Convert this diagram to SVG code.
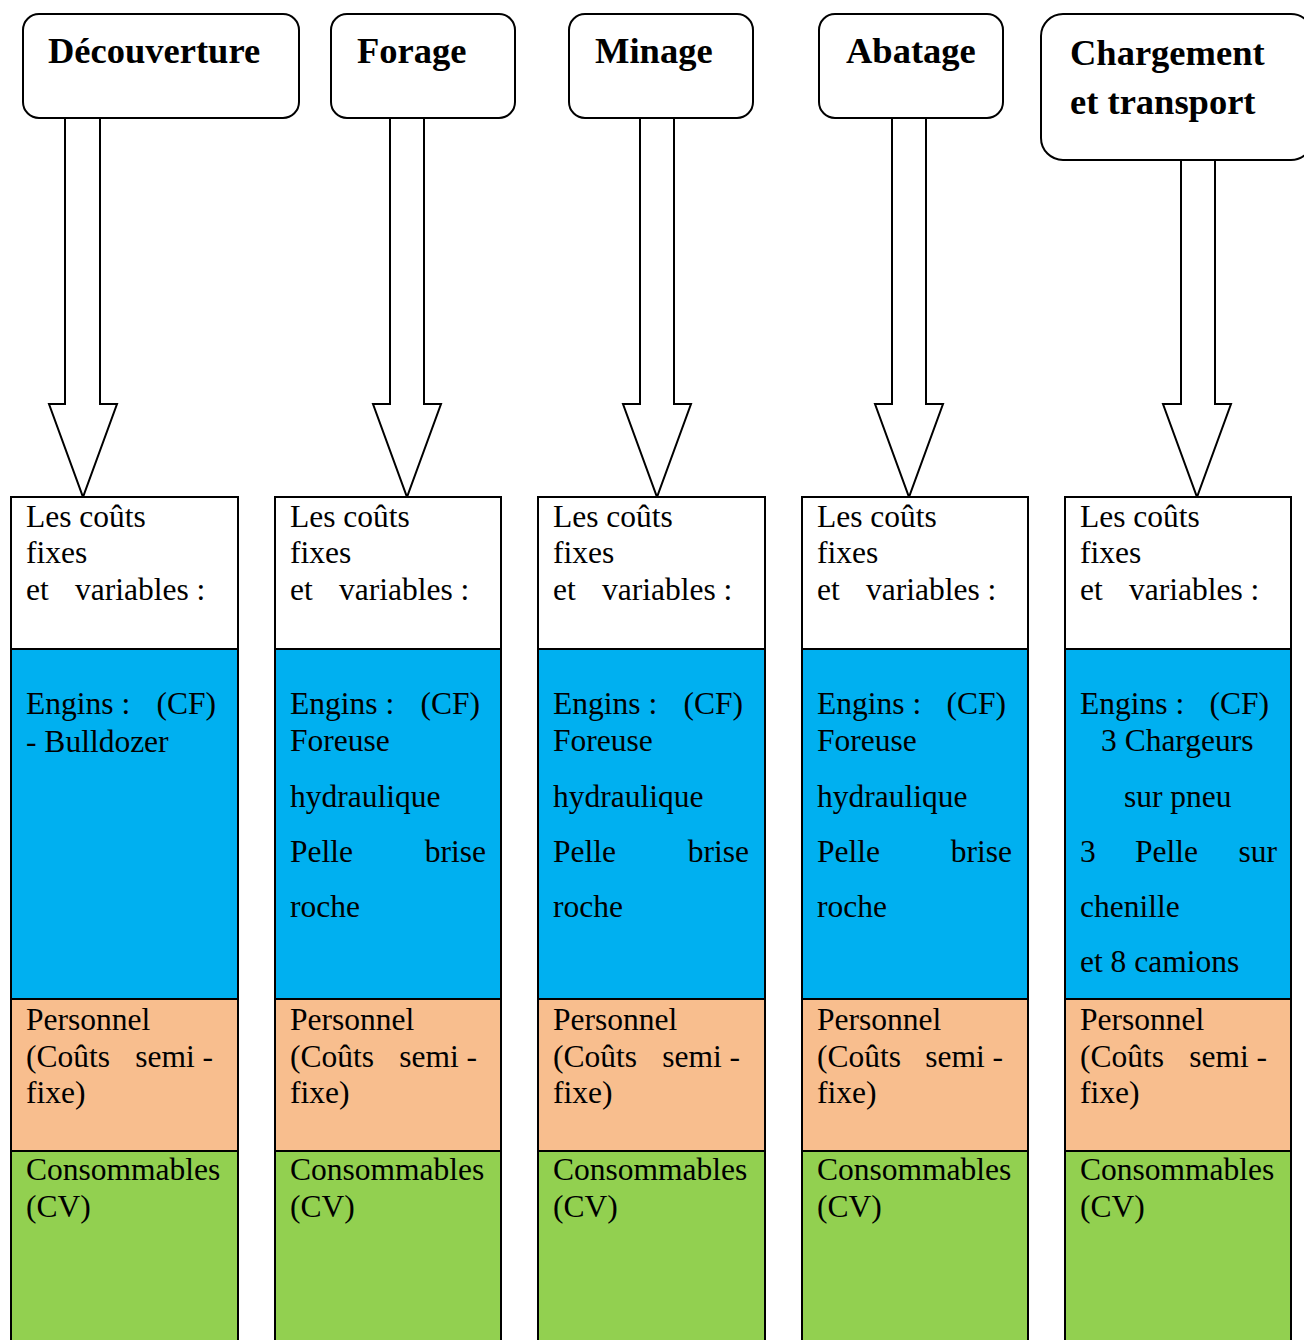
<svg xmlns="http://www.w3.org/2000/svg" width="1304" height="1340" viewBox="0 0 1304 1340">
<style>
.box{fill:#fff;stroke:#000;stroke-width:2}
.arrow{fill:#fff;stroke:#000;stroke-width:2;stroke-linejoin:miter}
.title{font-family:"Liberation Serif","Times New Roman",serif;font-weight:bold;font-size:36.5px;fill:#000}
.t{font-family:"Liberation Serif","Times New Roman",serif;font-size:31.5px;fill:#000}
.e{text-anchor:end}
.sec{stroke:#000;stroke-width:2}
.w{fill:#fff}.b{fill:#00B0F0}.o{fill:#F8BE8E}.g{fill:#92D050}
</style>
<rect width="1304" height="1340" fill="#fff"/>
<g id="connectors">
<polygon class="arrow" points="65,118 100,118 100,404 117,404 83,497 49,404 65,404"/>
<polygon class="arrow" points="390,118 424,118 424,404 441,404 407,497 373,404 390,404"/>
<polygon class="arrow" points="640,118 674,118 674,404 691,404 657,497 623,404 640,404"/>
<polygon class="arrow" points="892,118 926,118 926,404 943,404 909,497 875,404 892,404"/>
<polygon class="arrow" points="1181,160 1215,160 1215,404 1231,404 1197,497 1163,404 1181,404"/>
</g>
<g id="decouverture"><rect class="box" x="23" y="14" width="276" height="104" rx="16"/><text class="title" x="48" y="63">Découverture</text></g>
<g id="forage"><rect class="box" x="331" y="14" width="184" height="104" rx="16"/><text class="title" x="357" y="63">Forage</text></g>
<g id="minage"><rect class="box" x="569" y="14" width="184" height="104" rx="16"/><text class="title" x="595" y="63">Minage</text></g>
<g id="abatage"><rect class="box" x="819" y="14" width="184" height="104" rx="16"/><text class="title" x="846" y="63">Abatage</text></g>
<g id="chargement"><rect class="box" x="1041" y="14" width="272" height="146" rx="22"/><text class="title" x="1070" y="65">Chargement</text><text class="title" x="1070" y="114">et transport</text></g>

<g id="col1">
<rect class="sec w" x="11" y="497" width="227" height="152"/>
<rect class="sec b" x="11" y="649" width="227" height="350"/>
<rect class="sec o" x="11" y="999" width="227" height="152"/>
<rect class="sec g" x="11" y="1151" width="227" height="200"/>
<text class="t" x="26" y="527">Les coûts</text><text class="t" x="26" y="563">fixes</text><text class="t" x="26" y="600">et</text><text class="t" x="75" y="600">variables :</text>
<text class="t" x="26" y="714">Engins :</text><text class="t e" x="216" y="714">(CF)</text><text class="t" x="26" y="752">- Bulldozer</text>
<text class="t" x="26" y="1030">Personnel</text><text class="t" x="26" y="1067">(Coûts</text><text class="t e" x="213" y="1067">semi -</text><text class="t" x="26" y="1103">fixe)</text>
<text class="t" x="26" y="1180">Consommables</text><text class="t" x="26" y="1217">(CV)</text>
</g>
<g id="col2">
<rect class="sec w" x="275" y="497" width="226" height="152"/>
<rect class="sec b" x="275" y="649" width="226" height="350"/>
<rect class="sec o" x="275" y="999" width="226" height="152"/>
<rect class="sec g" x="275" y="1151" width="226" height="200"/>
<text class="t" x="290" y="527">Les coûts</text><text class="t" x="290" y="563">fixes</text><text class="t" x="290" y="600">et</text><text class="t" x="339" y="600">variables :</text>
<text class="t" x="290" y="714">Engins :</text><text class="t e" x="480" y="714">(CF)</text><text class="t" x="290" y="751">Foreuse</text><text class="t" x="290" y="807">hydraulique</text><text class="t" x="290" y="862">Pelle</text><text class="t e" x="486" y="862">brise</text><text class="t" x="290" y="917">roche</text>
<text class="t" x="290" y="1030">Personnel</text><text class="t" x="290" y="1067">(Coûts</text><text class="t e" x="477" y="1067">semi -</text><text class="t" x="290" y="1103">fixe)</text>
<text class="t" x="290" y="1180">Consommables</text><text class="t" x="290" y="1217">(CV)</text>
</g>
<g id="col3">
<rect class="sec w" x="538" y="497" width="227" height="152"/>
<rect class="sec b" x="538" y="649" width="227" height="350"/>
<rect class="sec o" x="538" y="999" width="227" height="152"/>
<rect class="sec g" x="538" y="1151" width="227" height="200"/>
<text class="t" x="553" y="527">Les coûts</text><text class="t" x="553" y="563">fixes</text><text class="t" x="553" y="600">et</text><text class="t" x="602" y="600">variables :</text>
<text class="t" x="553" y="714">Engins :</text><text class="t e" x="743" y="714">(CF)</text><text class="t" x="553" y="751">Foreuse</text><text class="t" x="553" y="807">hydraulique</text><text class="t" x="553" y="862">Pelle</text><text class="t e" x="749" y="862">brise</text><text class="t" x="553" y="917">roche</text>
<text class="t" x="553" y="1030">Personnel</text><text class="t" x="553" y="1067">(Coûts</text><text class="t e" x="740" y="1067">semi -</text><text class="t" x="553" y="1103">fixe)</text>
<text class="t" x="553" y="1180">Consommables</text><text class="t" x="553" y="1217">(CV)</text>
</g>
<g id="col4">
<rect class="sec w" x="802" y="497" width="226" height="152"/>
<rect class="sec b" x="802" y="649" width="226" height="350"/>
<rect class="sec o" x="802" y="999" width="226" height="152"/>
<rect class="sec g" x="802" y="1151" width="226" height="200"/>
<text class="t" x="817" y="527">Les coûts</text><text class="t" x="817" y="563">fixes</text><text class="t" x="817" y="600">et</text><text class="t" x="866" y="600">variables :</text>
<text class="t" x="817" y="714">Engins :</text><text class="t e" x="1006" y="714">(CF)</text><text class="t" x="817" y="751">Foreuse</text><text class="t" x="817" y="807">hydraulique</text><text class="t" x="817" y="862">Pelle</text><text class="t e" x="1012" y="862">brise</text><text class="t" x="817" y="917">roche</text>
<text class="t" x="817" y="1030">Personnel</text><text class="t" x="817" y="1067">(Coûts</text><text class="t e" x="1003" y="1067">semi -</text><text class="t" x="817" y="1103">fixe)</text>
<text class="t" x="817" y="1180">Consommables</text><text class="t" x="817" y="1217">(CV)</text>
</g>
<g id="col5">
<rect class="sec w" x="1065" y="497" width="226" height="152"/>
<rect class="sec b" x="1065" y="649" width="226" height="350"/>
<rect class="sec o" x="1065" y="999" width="226" height="152"/>
<rect class="sec g" x="1065" y="1151" width="226" height="200"/>
<text class="t" x="1080" y="527">Les coûts</text><text class="t" x="1080" y="563">fixes</text><text class="t" x="1080" y="600">et</text><text class="t" x="1129" y="600">variables :</text>
<text class="t" x="1080" y="714">Engins :</text><text class="t e" x="1269" y="714">(CF)</text><text class="t" x="1101" y="751">3 Chargeurs</text><text class="t" x="1124" y="807">sur pneu</text><text class="t" x="1080" y="862">3</text><text class="t" x="1135" y="862">Pelle</text><text class="t e" x="1277" y="862">sur</text><text class="t" x="1080" y="917">chenille</text><text class="t" x="1080" y="972">et 8 camions</text>
<text class="t" x="1080" y="1030">Personnel</text><text class="t" x="1080" y="1067">(Coûts</text><text class="t e" x="1267" y="1067">semi -</text><text class="t" x="1080" y="1103">fixe)</text>
<text class="t" x="1080" y="1180">Consommables</text><text class="t" x="1080" y="1217">(CV)</text>
</g>
</svg>
